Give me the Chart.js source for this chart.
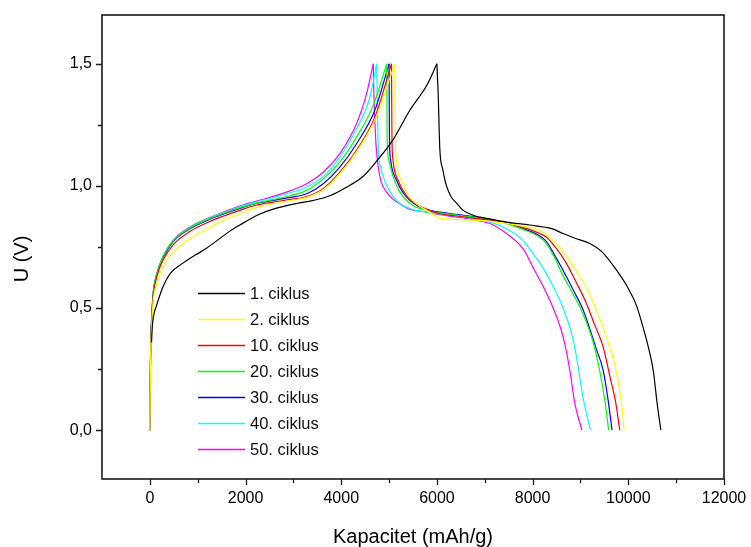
<!DOCTYPE html>
<html><head><meta charset="utf-8">
<script src="https://cdn.jsdelivr.net/npm/chart.js@4.4.0/dist/chart.umd.min.js"></script>
<style>html,body{margin:0;padding:0;background:#fff}#wrap{width:751px;height:547px}</style>
</head><body><div id="wrap"><canvas id="c" width="751" height="547"></canvas></div>
<script>
const seriesLabels = ['1. ciklus','2. ciklus','10. ciklus','20. ciklus','30. ciklus','40. ciklus','50. ciklus'];
const seriesColors = ['#000000','#ffff00','#ff0000','#00ff00','#0000ff','#00ffff','#ff00ff'];

// 1. ciklus
const cap1 = [35,50,80,140,270,420,700,976,1185,1672,1880,2300,2580,3066,3400,3763,4100,4460,4774,5085,5434,5783,6000,6010,6026,6061,6120,6200,6300,6410,6550,6757,7100,7455,7940,8400,8638,8900,9196,9450,9754,10000,10172,10310,10400,10521,10603,10680];
const volt1 = [0.36,0.42,0.47,0.51,0.585,0.64,0.685,0.72,0.745,0.815,0.84,0.885,0.905,0.928,0.94,0.96,0.994,1.04,1.11,1.19,1.31,1.41,1.5,1.45,1.38,1.15,1.07,1.0,0.955,0.93,0.9,0.88,0.865,0.852,0.84,0.825,0.805,0.785,0.764,0.73,0.655,0.58,0.51,0.42,0.355,0.245,0.109,0.0];
// 2. ciklus
const cap2 = [0,3,8,15,30,50,70,140,280,490,840,1200,1530,1880,2230,2580,2930,3280,3630,3970,4320,4700,5120,5125,5132,5150,5260,5400,5573,5783,6060,6400,6760,7110,7455,7800,8151,8290,8500,8700,8952,9150,9336,9580,9754,9859,9914];
const volt2 = [0,0.09,0.18,0.28,0.39,0.47,0.53,0.6,0.672,0.73,0.784,0.825,0.859,0.885,0.912,0.928,0.94,0.953,0.985,1.05,1.14,1.27,1.5,1.35,1.2,1.11,1.023,0.96,0.927,0.9,0.868,0.863,0.86,0.855,0.847,0.835,0.818,0.8,0.764,0.715,0.64,0.575,0.49,0.36,0.235,0.109,0.0];
// 10. ciklus
const cap10 = [0,3,8,15,30,50,70,140,280,490,840,1200,1530,1880,2230,2580,2930,3280,3630,3970,4320,4700,5050,5055,5060,5080,5190,5350,5503,5783,6060,6400,6760,7110,7455,7800,8151,8290,8500,8700,8900,9100,9300,9475,9615,9740,9820];
const volt10 = [0,0.1,0.2,0.3,0.41,0.49,0.55,0.625,0.698,0.76,0.814,0.85,0.876,0.9,0.922,0.934,0.945,0.957,0.99,1.057,1.146,1.28,1.5,1.35,1.2,1.11,1.023,0.965,0.934,0.905,0.886,0.877,0.868,0.86,0.849,0.83,0.805,0.79,0.743,0.685,0.61,0.53,0.43,0.34,0.22,0.11,0.0];
// 20. ciklus
const cap20 = [0,3,8,15,30,50,70,140,280,490,840,1200,1530,1880,2230,2580,2930,3280,3630,3970,4320,4670,4950,4955,4960,4990,5088,5200,5297,5500,5783,6060,6400,6760,7110,7455,7800,8151,8290,8450,8603,8810,9022,9266,9405,9510,9590];
const volt20 = [0,0.1,0.2,0.3,0.42,0.5,0.56,0.636,0.712,0.775,0.828,0.862,0.887,0.911,0.93,0.944,0.96,0.982,1.03,1.098,1.2,1.33,1.5,1.35,1.2,1.11,1.036,0.985,0.955,0.92,0.9,0.89,0.881,0.872,0.862,0.846,0.822,0.79,0.764,0.71,0.645,0.57,0.49,0.36,0.24,0.12,0.0];
// 30. ciklus
const cap30 = [0,3,8,15,30,50,70,140,280,490,840,1200,1530,1880,2230,2580,2930,3280,3630,3970,4320,4700,5000,5003,5008,5030,5156,5300,5434,5600,5783,6060,6400,6760,7110,7455,7800,8151,8290,8450,8650,8860,9060,9336,9475,9580,9660];
const volt30 = [0,0.1,0.2,0.3,0.42,0.5,0.56,0.634,0.708,0.772,0.825,0.859,0.884,0.908,0.928,0.941,0.953,0.968,1.01,1.077,1.173,1.309,1.5,1.35,1.2,1.11,1.023,0.97,0.941,0.918,0.903,0.893,0.884,0.874,0.863,0.848,0.825,0.795,0.772,0.72,0.65,0.57,0.49,0.33,0.245,0.12,0.0];
// 40. ciklus
const cap40 = [0,3,8,15,30,50,70,140,280,490,840,1200,1530,1880,2230,2580,2930,3280,3630,3970,4320,4600,4740,4750,4760,4775,4820,4880,4980,5088,5250,5434,5783,6060,6400,6760,7110,7455,7800,7942,8151,8290,8450,8638,8848,8952,9057,9210];
const volt40 = [0,0.1,0.2,0.3,0.42,0.5,0.56,0.636,0.712,0.776,0.83,0.864,0.89,0.915,0.935,0.952,0.972,0.996,1.04,1.118,1.234,1.364,1.5,1.4,1.28,1.146,1.08,1.036,0.99,0.955,0.925,0.907,0.893,0.885,0.877,0.866,0.852,0.825,0.777,0.74,0.685,0.64,0.58,0.5,0.37,0.26,0.13,0.0];
// 50. ciklus
const cap50 = [0,3,8,15,30,50,70,140,280,490,840,1200,1530,1880,2230,2580,2930,3280,3630,3970,4320,4530,4670,4680,4695,4705,4730,4775,4830,4948,5088,5225,5434,5783,6060,6400,6760,7110,7455,7800,8012,8256,8430,8638,8778,8883,9030];
const volt50 = [0,0.1,0.2,0.3,0.42,0.5,0.56,0.637,0.713,0.778,0.832,0.866,0.892,0.918,0.938,0.957,0.98,1.009,1.057,1.132,1.255,1.378,1.5,1.4,1.3,1.255,1.16,1.077,1.02,0.975,0.945,0.927,0.905,0.893,0.882,0.873,0.862,0.846,0.805,0.743,0.665,0.575,0.5,0.382,0.245,0.109,0.0];

const capSeries = [cap1,cap2,cap10,cap20,cap30,cap40,cap50];
const voltSeries = [volt1,volt2,volt10,volt20,volt30,volt40,volt50];

const xMajorTicks = [0,2000,4000,6000,8000,10000,12000];
const xMinorTicks = [1000,3000,5000,7000,9000,11000];
const yMajorTicks = [0,0.5,1.0,1.5];
const yMinorTicks = [0.25,0.75,1.25];

const FONT = "'Liberation Sans', Arial, Helvetica, sans-serif";
Chart.defaults.font.family = FONT;
Chart.defaults.color = '#000';

// each cycle is drawn as a charge branch (up to the 1.5 V peak) and a discharge branch
const datasets = [];
capSeries.forEach((xs, i) => {
  const ys = voltSeries[i];
  const pts = xs.map((x, j) => ({x: x, y: ys[j]}));
  let pk = 0;
  ys.forEach((v, j) => { if (v > ys[pk]) pk = j; });
  [pts.slice(0, pk + 1), pts.slice(pk)].forEach((part, k) => {
    datasets.push({
      label: seriesLabels[i],
      legendEntry: k === 0,
      data: part,
      borderColor: seriesColors[i],
      backgroundColor: seriesColors[i],
      borderWidth: 1.2,
      pointRadius: 0,
      showLine: true,
      fill: false,
      cubicInterpolationMode: 'monotone'
    });
  });
});

const framePlugin = {
  id: 'frame',
  afterDraw(chart) {
    const {ctx, chartArea: a, scales: {x, y}} = chart;
    ctx.save();
    ctx.strokeStyle = '#1a1a1a';
    ctx.lineWidth = 1.6;
    ctx.strokeRect(a.left, a.top, a.right - a.left, a.bottom - a.top);
    ctx.lineWidth = 1.3;
    ctx.beginPath();
    xMajorTicks.forEach(v => { const p = Math.round(x.getPixelForValue(v)) + 0.5; ctx.moveTo(p, a.bottom); ctx.lineTo(p, a.bottom + 6); });
    xMinorTicks.forEach(v => { const p = Math.round(x.getPixelForValue(v)) + 0.5; ctx.moveTo(p, a.bottom); ctx.lineTo(p, a.bottom + 4); });
    yMajorTicks.forEach(v => { const p = Math.round(y.getPixelForValue(v)) + 0.5; ctx.moveTo(a.left, p); ctx.lineTo(a.left - 6, p); });
    yMinorTicks.forEach(v => { const p = Math.round(y.getPixelForValue(v)) + 0.5; ctx.moveTo(a.left, p); ctx.lineTo(a.left - 4, p); });
    ctx.stroke();

    // y axis title
    ctx.fillStyle = '#000';
    ctx.font = '20px ' + FONT;
    ctx.textAlign = 'center';
    ctx.textBaseline = 'middle';
    ctx.translate(22, (a.top + a.bottom) / 2 + 12);
    ctx.rotate(-Math.PI / 2);
    ctx.fillText('U (V)', 0, 0);
    ctx.restore();

    // legend
    ctx.save();
    ctx.font = '16.5px ' + FONT;
    ctx.textAlign = 'left';
    ctx.textBaseline = 'middle';
    chart.data.datasets.filter(ds => ds.legendEntry).forEach((ds, i) => {
      const yy = 293 + i * 26;
      ctx.strokeStyle = ds.borderColor;
      ctx.lineWidth = 1.5;
      ctx.beginPath();
      ctx.moveTo(198, yy + 0.5);
      ctx.lineTo(245, yy + 0.5);
      ctx.stroke();
      ctx.fillStyle = '#111';
      ctx.fillText(ds.label, 250, yy + 1);
    });
    ctx.restore();
  }
};

new Chart(document.getElementById('c'), {
  type: 'scatter',
  data: { datasets: datasets },
  options: {
    responsive: false,
    animation: false,
    events: [],
    layout: { padding: { top: 15, right: 27, left: 0, bottom: 0 } },
    plugins: { legend: { display: false }, tooltip: { enabled: false } },
    scales: {
      x: {
        type: 'linear', min: -1000, max: 12000,
        grid: { display: false, drawTicks: false },
        border: { display: false },
        afterBuildTicks: s => { s.ticks = xMajorTicks.map(v => ({value: v})); },
        afterFit: s => { s.height = 68; s.paddingLeft = 0; s.paddingRight = 0; },
        ticks: { padding: 10, font: { size: 16 }, color: '#000', maxRotation: 0, autoSkip: false,
                 callback: v => String(v) },
        title: { display: true, text: 'Kapacitet (mAh/g)', font: { size: 20, lineHeight: 1.0 }, color: '#000', padding: { top: 0, bottom: 0 } }
      },
      y: {
        type: 'linear', min: -0.2, max: 1.7,
        grid: { display: false, drawTicks: false },
        border: { display: false },
        afterBuildTicks: s => { s.ticks = yMajorTicks.map(v => ({value: v})); },
        afterFit: s => { s.width = 102; s.paddingTop = 0; s.paddingBottom = 0; },
        ticks: { padding: 10, font: { size: 16 }, color: '#000', autoSkip: false,
                 callback: v => Number(v).toFixed(1).replace('.', ',') },
        title: { display: false }
      }
    }
  },
  plugins: [framePlugin]
});
</script>
</body></html>
